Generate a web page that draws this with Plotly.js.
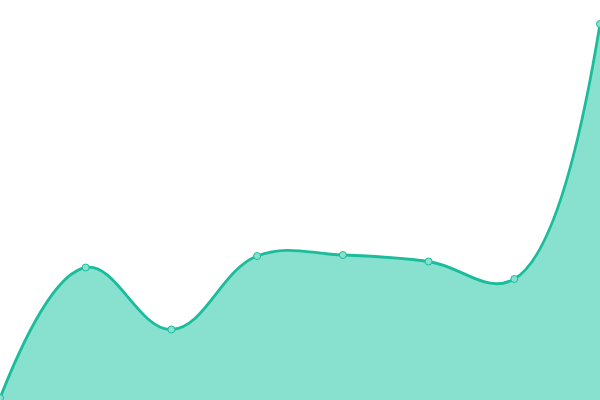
<!DOCTYPE html>
<html>
<head>
<meta charset="utf-8">
<script src="https://cdn.plot.ly/plotly-3.0.1.min.js"></script>
<style>
    html, body { margin: 0; padding: 0; background: #ffffff; }
    #chart { width: 600px; height: 400px; }
</style>
</head>
<body>
<div id="chart"></div>
<script>
// one smooth filled series, 8 points, no axes shown
const pointIndex = [0, 1, 2, 3, 4, 5, 6, 7];
const seriesValues = [2, 132.5, 70.5, 144, 145, 138.5, 121, 376];

const lineColor = "#1abc9c";
const fillColor = "#88e0cf";

Plotly.newPlot(
    "chart",
    [{
        type: "scatter",
        mode: "lines+markers",
        x: pointIndex,
        y: seriesValues,
        fill: "tozeroy",
        fillcolor: fillColor,
        line: {
            color: lineColor,
            width: 2.8,
            shape: "spline",
            smoothing: 1.15,
        },
        marker: {
            size: 7,
            color: fillColor,
            line: {
                color: lineColor,
                width: 1,
            },
        },
        hoverinfo: "skip",
    }],
    {
        width: 600,
        height: 400,
        margin: { t: 0, r: 0, b: 0, l: 0 },
        paper_bgcolor: "#ffffff",
        plot_bgcolor: "#ffffff",
        showlegend: false,
        xaxis: {
            range: [0, 7],
            visible: false,
            fixedrange: true,
        },
        yaxis: {
            range: [0, 400],
            visible: false,
            fixedrange: true,
        },
    },
    { displayModeBar: false, staticPlot: true },
);
</script>
</body>
</html>
